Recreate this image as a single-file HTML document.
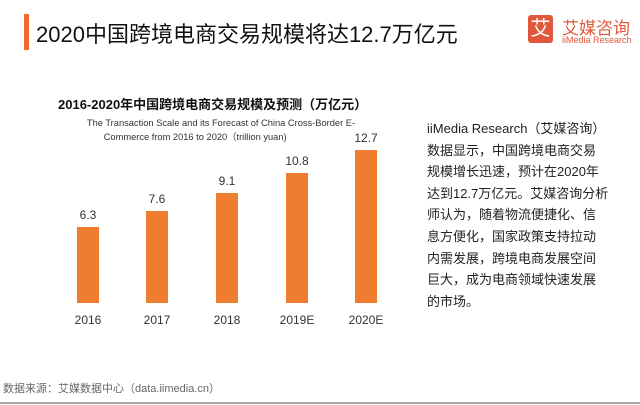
<!DOCTYPE html>
<html><head><meta charset="utf-8"><style>
body{margin:0;width:640px;height:405px;background:#fff;position:relative;overflow:hidden;font-family:"Liberation Sans","Noto Sans CJK SC",sans-serif;color:#222}
.a{position:absolute;white-space:nowrap}
.bar{position:absolute;background:#ef7d2f;width:22px;bottom:102px}
.v{position:absolute;width:60px;text-align:center;font-size:12px;color:#333}
.x{position:absolute;width:60px;text-align:center;font-size:12px;color:#333;top:313px}
</style></head><body>
<div class="a" style="left:24px;top:14px;width:5px;height:36px;background:#f26a2e"></div>
<div class="a" style="left:36px;top:17px;font-size:22px;color:#111">2020中国跨境电商交易规模将达12.7万亿元</div>
<div class="a" style="left:528px;top:15px;width:25px;height:28px;background:#e0583b;border-radius:3px;color:#fff;font-size:20px;line-height:28px;text-align:center">艾</div>
<div class="a" style="left:562px;top:14px;font-size:17px;color:#e0583b">艾媒咨询</div>
<div class="a" style="left:562px;top:35px;font-size:9px;color:#e0583b">iiMedia Research</div>
<div class="a" style="left:58px;top:94px;font-size:13px;font-weight:bold;color:#111">2016-2020年中国跨境电商交易规模及预测（万亿元）</div>
<div class="a" style="left:71px;top:116px;font-size:9.3px;color:#333;width:300px;text-align:center;line-height:14px">The Transaction Scale and its Forecast of China Cross-Border E-<br>Commerce from 2016 to 2020（trillion yuan)&nbsp;&nbsp;&nbsp;&nbsp;&nbsp;&nbsp;&nbsp;&nbsp;&nbsp;&nbsp;&nbsp;&nbsp;&nbsp;&nbsp;&nbsp;&nbsp;&nbsp;&nbsp;&nbsp;&nbsp;</div>
<div class="bar" style="left:77px;top:227px"></div>
<div class="bar" style="left:146px;top:211px"></div>
<div class="bar" style="left:216px;top:193px"></div>
<div class="bar" style="left:286px;top:173px"></div>
<div class="bar" style="left:355px;top:150px"></div>
<div class="v" style="left:58px;top:208px">6.3</div>
<div class="v" style="left:127px;top:192px">7.6</div>
<div class="v" style="left:197px;top:174px">9.1</div>
<div class="v" style="left:267px;top:154px">10.8</div>
<div class="v" style="left:336px;top:131px">12.7</div>
<div class="x" style="left:58px">2016</div>
<div class="x" style="left:127px">2017</div>
<div class="x" style="left:197px">2018</div>
<div class="x" style="left:267px">2019E</div>
<div class="x" style="left:336px">2020E</div>
<div class="a" style="left:427px;top:118px;font-size:13px;line-height:21.6px;color:#222">iiMedia Research（艾媒咨询）<br>数据显示，中国跨境电商交易<br>规模增长迅速，预计在2020年<br>达到12.7万亿元。艾媒咨询分析<br>师认为，随着物流便捷化、信<br>息方便化，国家政策支持拉动<br>内需发展，跨境电商发展空间<br>巨大，成为电商领域快速发展<br>的市场。</div>
<div class="a" style="left:3px;top:380px;font-size:11px;color:#666">数据来源：艾媒数据中心（data.iimedia.cn）</div>
<div class="a" style="left:0;top:402px;width:640px;height:2px;background:#aaa"></div>
</body></html>
